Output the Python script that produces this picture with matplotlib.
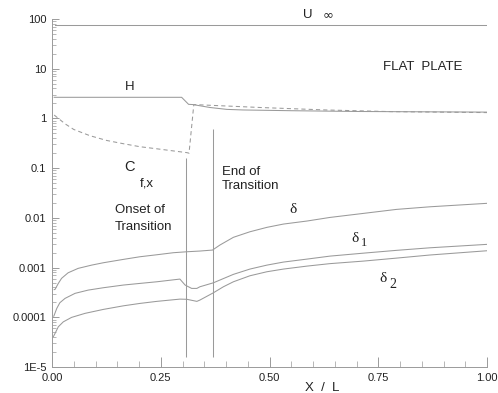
import numpy as np
import matplotlib
matplotlib.use('Agg')
import matplotlib.pyplot as plt
from matplotlib.ticker import FixedLocator, LogLocator, NullFormatter, MultipleLocator

# free stream velocity
u_inf_x = [0.007, 1.0]
u_inf = [75.0, 75.0]

# shape factor H
h_x = [0.005, 0.298, 0.314, 0.324, 0.363, 0.402, 0.439, 0.55, 0.70, 1.0]
h_val = [2.66, 2.66, 1.92, 1.90, 1.66, 1.52, 1.48, 1.43, 1.38, 1.34]

# skin friction Cf,x (dashed)
cf_x = [0.005, 0.03, 0.05, 0.087, 0.126, 0.164, 0.202, 0.241, 0.279, 0.31, 0.315,
        0.326, 0.40, 0.478, 0.63, 0.78, 1.0]
cf_val = [1.17, 0.78, 0.60, 0.45, 0.36, 0.31, 0.27, 0.245, 0.222, 0.205, 0.20,
          1.90, 1.78, 1.66, 1.48, 1.37, 1.31]

# boundary layer thickness delta
d_x = [0.005, 0.007, 0.0145, 0.022, 0.037, 0.060, 0.091, 0.118, 0.164, 0.202, 0.241,
       0.279, 0.310, 0.340, 0.369, 0.386, 0.417, 0.455, 0.494, 0.532, 0.586, 0.639,
       0.716, 0.792, 0.869, 1.0]
d_val = [3.6e-4, 3.64e-4, 4.8e-4, 6.07e-4, 7.85e-4, 9.63e-4, 1.12e-3, 1.25e-3, 1.46e-3,
         1.65e-3, 1.81e-3, 1.99e-3, 2.08e-3, 2.15e-3, 2.25e-3, 2.84e-3, 4.06e-3, 5.25e-3,
         6.44e-3, 7.5e-3, 8.63e-3, 1.02e-2, 1.23e-2, 1.48e-2, 1.67e-2, 1.96e-2]

# displacement thickness delta_1
d1_x = [0.004, 0.005, 0.011, 0.018, 0.030, 0.053, 0.083, 0.118, 0.164, 0.202, 0.241,
        0.294, 0.306, 0.321, 0.333, 0.340, 0.371, 0.417, 0.455, 0.494, 0.532, 0.586,
        0.639, 0.716, 0.792, 0.869, 1.0]
d1_val = [1.05e-4, 1.1e-4, 1.51e-4, 1.96e-4, 2.4e-4, 3.03e-4, 3.52e-4, 3.93e-4, 4.45e-4,
          4.8e-4, 5.18e-4, 5.87e-4, 4.45e-4, 3.81e-4, 3.81e-4, 4.11e-4, 4.94e-4, 7.3e-4,
          9.33e-4, 1.12e-3, 1.29e-3, 1.48e-3, 1.7e-3, 1.95e-3, 2.22e-3, 2.5e-3, 2.93e-3]

# momentum thickness delta_2
d2_x = [0.003, 0.007, 0.0145, 0.026, 0.045, 0.076, 0.118, 0.164, 0.202, 0.241, 0.294,
        0.310, 0.333, 0.340, 0.371, 0.394, 0.417, 0.455, 0.494, 0.532, 0.586, 0.639,
        0.716, 0.792, 0.869, 1.0]
d2_val = [4.06e-5, 4.74e-5, 6.44e-5, 8.1e-5, 9.95e-5, 1.2e-4, 1.44e-4, 1.70e-4, 1.9e-4,
          2.09e-4, 2.32e-4, 2.3e-4, 2.09e-4, 2.22e-4, 3.11e-4, 4.11e-4, 5.18e-4, 6.84e-4,
          8.24e-4, 9.33e-4, 1.07e-3, 1.2e-3, 1.35e-3, 1.55e-3, 1.79e-3, 2.18e-3]

# onset / end of transition markers
trans_x = [0.307, 0.371]
trans_top = [0.16, 0.61]
trans_bottom = 1.6e-5

y_ticks = [1e-5, 1e-4, 1e-3, 1e-2, 1e-1, 1, 10, 100]
y_labels = ['1E-5', '0.0001', '0.001', '0.01', '0.1', '1', '10', '100']
x_ticks = [0.0, 0.25, 0.5, 0.75, 1.0]
x_labels = ['0.00', '0.25', '0.50', '0.75', '1.00']

plt.rcParams['font.family'] = ['Liberation Sans', 'DejaVu Sans']
line_col = '#9a9a9a'
txt_col = '#222222'
lw = 0.75

fig = plt.figure(figsize=(4.98, 3.93), dpi=100)
ax = fig.add_axes([52 / 498, 1 - 367 / 393, 435 / 498, 348 / 393])

ax.plot(u_inf_x, u_inf, color=line_col, lw=lw)
ax.plot(h_x, h_val, color=line_col, lw=lw)
ax.plot(cf_x, cf_val, color=line_col, lw=lw, ls=(0, (4, 3)))
ax.plot(d_x, d_val, color=line_col, lw=lw)
ax.plot(d1_x, d1_val, color=line_col, lw=lw)
ax.plot(d2_x, d2_val, color=line_col, lw=lw)
ax.vlines(trans_x, trans_bottom, trans_top, color=line_col, lw=lw)

ax.set_yscale('log')
ax.set_xlim(0, 1.0)
ax.set_ylim(1e-5, 100)

ax.yaxis.set_major_locator(FixedLocator(y_ticks))
ax.set_yticklabels(y_labels)
ax.yaxis.set_minor_locator(LogLocator(base=10, subs=np.arange(2, 10)))
ax.yaxis.set_minor_formatter(NullFormatter())
ax.set_xticks(x_ticks)
ax.set_xticklabels(x_labels)
ax.xaxis.set_minor_locator(MultipleLocator(0.05))

ax.tick_params(which='major', direction='in', length=5, width=0.7, color=line_col,
               labelsize=8, labelcolor=txt_col, pad=4)
ax.tick_params(which='minor', direction='in', length=3, width=0.5, color=line_col)
ax.tick_params(axis='x', which='major', length=7)
ax.tick_params(axis='x', which='minor', length=4)

for s in ['top', 'right']:
    ax.spines[s].set_visible(False)
for s in ['left', 'bottom']:
    ax.spines[s].set_color(line_col)
    ax.spines[s].set_linewidth(0.7)

fs = 9.5
ax.text(0.589, 120, 'U', fontsize=fs, color=txt_col, ha='center', va='center', clip_on=False)
ax.text(0.635, 118, r'$\infty$', fontsize=fs, color=txt_col, ha='center', va='center', clip_on=False)
ax.text(0.853, 11, 'FLAT  PLATE', fontsize=fs, color=txt_col, ha='center', va='center')
ax.text(0.179, 4.3, 'H', fontsize=fs, color=txt_col, ha='center', va='center')
ax.text(0.179, 0.107, 'C', fontsize=10.5, color=txt_col, ha='center', va='center')
ax.text(0.218, 0.05, 'f,x', fontsize=fs, color=txt_col, ha='center', va='center')
ax.text(0.39, 0.06, 'End of\nTransition', fontsize=fs, color=txt_col, ha='left',
        va='center', linespacing=1.25)
ax.text(0.145, 0.0098, 'Onset of\nTransition', fontsize=fs, color=txt_col, ha='left',
        va='center', linespacing=1.6)

serif = ['Liberation Serif', 'DejaVu Serif']
ax.text(0.554, 0.0148, '\u03b4', fontsize=11, family=serif, color=txt_col, ha='center', va='center')
ax.text(0.697, 0.0039, '\u03b4', fontsize=11, family=serif, color=txt_col, ha='center', va='center')
ax.text(0.717, 0.0031, '1', fontsize=9, family=serif, color=txt_col, ha='center', va='center')
ax.text(0.761, 6.07e-4, '\u03b4', fontsize=11, family=serif, color=txt_col, ha='center', va='center')
ax.text(0.783, 4.5e-4, '2', fontsize=10, family=serif, color=txt_col, ha='center', va='center')

ax.text(0.62, -0.06, 'X  /  L', fontsize=fs, color=txt_col, ha='center', va='center',
        transform=ax.get_xaxis_transform(), clip_on=False)

fig.savefig('out.png', dpi=100)
